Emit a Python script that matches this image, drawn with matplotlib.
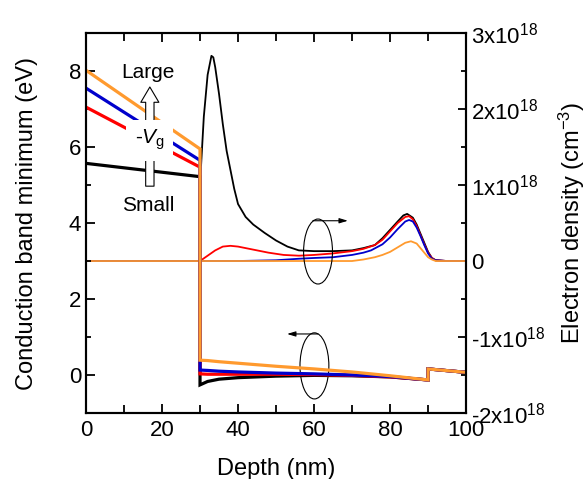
import numpy as np
import matplotlib
matplotlib.use('Agg')
import matplotlib.pyplot as plt
from matplotlib.patches import Ellipse
from matplotlib.ticker import MultipleLocator

plt.rcParams['font.family'] = ['Liberation Sans', 'DejaVu Sans']
plt.rcParams['mathtext.fontset'] = 'custom'
plt.rcParams['mathtext.rm'] = 'Liberation Sans'
plt.rcParams['mathtext.it'] = 'Liberation Sans:italic'
plt.rcParams['mathtext.bf'] = 'Liberation Sans:bold'
plt.rcParams['mathtext.default'] = 'regular'

# conduction band minimum (eV): oxide part 0-30 nm, then channel 30-100 nm
ox_depth = [0, 30]
cb_black_ox = [5.57, 5.22]
cb_red_ox = [7.05, 5.47]
cb_blue_ox = [7.55, 5.65]
cb_orange_ox = [8.02, 5.95]

ch_depth = [30, 32, 35, 40, 50, 60, 70, 80, 90, 90, 100]
cb_black_ch = [-0.26, -0.17, -0.11, -0.07, -0.03, -0.01, -0.02, -0.05, -0.13, 0.16, 0.07]
cb_red_ch = [0.03, 0.02, 0.02, 0.02, 0.02, 0.01, -0.01, -0.05, -0.13, 0.16, 0.07]
cb_blue_ch = [0.13, 0.12, 0.10, 0.08, 0.05, 0.03, 0.0, -0.04, -0.13, 0.16, 0.07]
cb_orange_ch = [0.39, 0.38, 0.35, 0.31, 0.23, 0.16, 0.08, -0.02, -0.13, 0.16, 0.07]

# electron density (x1e18 cm^-3)
n_black_x = [0, 30, 30.1, 31, 32, 33, 33.5, 34, 35, 36, 37, 38, 39, 40, 42, 44, 47, 50, 53, 56, 60, 65, 70,
             73, 76, 78, 80, 82, 83.5, 84.5, 86, 87, 88, 89, 90, 91, 92, 95, 100]
n_black = [0, 0, 1.1, 1.9, 2.45, 2.7, 2.68, 2.55, 2.2, 1.8, 1.45, 1.2, 0.95, 0.75, 0.58, 0.48, 0.37, 0.27,
           0.19, 0.14, 0.13, 0.13, 0.14, 0.17, 0.21, 0.3, 0.41, 0.52, 0.6, 0.62, 0.57, 0.48, 0.36, 0.24,
           0.12, 0.04, 0.01, 0, 0]
n_red_x = [0, 30, 32, 34, 36, 38, 40, 44, 48, 52, 56, 60, 65, 70, 73, 76, 78, 80, 82, 84, 85, 86, 87,
           88, 89, 90, 91, 92, 95, 100]
n_red = [0, 0, 0.07, 0.14, 0.19, 0.2, 0.19, 0.15, 0.11, 0.08, 0.07, 0.08, 0.1, 0.13, 0.16, 0.21, 0.28,
         0.39, 0.5, 0.58, 0.59, 0.55, 0.46, 0.34, 0.22, 0.11, 0.04, 0.01, 0, 0]
n_blue_x = [0, 30, 40, 50, 56, 60, 65, 70, 73, 75, 78, 80, 82, 84, 85, 86, 87, 88, 89, 90, 91, 92, 95, 100]
n_blue = [0, 0, 0, 0.01, 0.03, 0.04, 0.05, 0.08, 0.11, 0.14, 0.22, 0.31, 0.42, 0.52, 0.54, 0.52, 0.44,
          0.33, 0.21, 0.1, 0.03, 0.01, 0, 0]
n_orange_x = [0, 30, 70, 73, 76, 78, 80, 82, 84, 85.5, 87, 88, 89, 90, 91, 92, 100]
n_orange = [0, 0, 0, 0.02, 0.05, 0.08, 0.12, 0.18, 0.24, 0.26, 0.23, 0.17, 0.11, 0.05, 0.02, 0, 0]

right_ticks = [-2, -1, 0, 1, 2, 3]
right_labels = ['-2x10$^{18}$', '-1x10$^{18}$', '0', '1x10$^{18}$', '2x10$^{18}$', '3x10$^{18}$']

c_black = 'black'
c_red = '#FF0000'
c_blue = '#0000CC'
c_orange = '#FF9A2E'

fig = plt.figure(figsize=(5.87, 4.79), dpi=100)
ax = fig.add_axes([0.1465, 0.1378, 0.6475, 0.7932])
ax2 = ax.twinx()
ax.set_zorder(ax2.get_zorder() + 1)
ax.patch.set_visible(False)

# density on the right axis
ax2.plot(n_black_x, n_black, color=c_black, lw=1.3)
ax2.plot(n_red_x, n_red, color=c_red, lw=1.3)
ax2.plot(n_blue_x, n_blue, color=c_blue, lw=1.3)
ax2.plot(n_orange_x, n_orange, color=c_orange, lw=1.3)

# conduction band on the left axis
for ox, ch, col in [(cb_black_ox, cb_black_ch, c_black), (cb_red_ox, cb_red_ch, c_red),
                    (cb_blue_ox, cb_blue_ch, c_blue), (cb_orange_ox, cb_orange_ch, c_orange)]:
    xs = ox_depth + ch_depth
    ys = ox + ch
    ax.plot(xs, ys, color=col, lw=2.3, solid_joinstyle='miter')

ax.set_xlim(0, 100)
ax.set_ylim(-1, 9)
ax2.set_ylim(-2, 3)

ax.xaxis.set_major_locator(MultipleLocator(20))
ax.xaxis.set_minor_locator(MultipleLocator(10))
ax.yaxis.set_major_locator(MultipleLocator(2))
ax.yaxis.set_minor_locator(MultipleLocator(1))
ax2.set_yticks(right_ticks)
ax2.set_yticklabels(right_labels)
ax2.yaxis.set_minor_locator(MultipleLocator(0.5))

ax.tick_params(axis='both', which='major', direction='in', length=6.5, width=1.3, labelsize=16)
ax.tick_params(axis='x', which='major', pad=5)
ax.tick_params(axis='both', which='minor', direction='in', length=3.5, width=1.3)
ax.tick_params(axis='x', which='both', top=True)
ax.tick_params(axis='x', which='minor', length=6)
ax2.tick_params(axis='y', which='major', direction='in', length=5.5, width=1.3, labelsize=16)
ax2.tick_params(axis='y', which='minor', direction='in', length=3.5, width=1.3)
for a in (ax, ax2):
    for s in a.spines.values():
        s.set_linewidth(1.5)

ax.set_xlabel('Depth (nm)', fontsize=17, labelpad=12)
ax.set_ylabel('Conduction band minimum (eV)', fontsize=17, labelpad=22)
ax2.set_ylabel('Electron density (cm$^{-3}$)', fontsize=17, labelpad=8)

# -Vg annotation
ax.annotate('', xy=(16.8, 7.58), xytext=(16.8, 4.97),
            arrowprops=dict(arrowstyle='simple,head_width=1.3,head_length=1.1,tail_width=0.6',
                            mutation_scale=10, fc='white', ec='black', lw=0.8,
                            shrinkA=0, shrinkB=0), zorder=5)
ax.text(16.8, 6.18, r'-$\mathit{V}_\mathrm{g}$', fontsize=15, ha='center', va='center', zorder=6,
        bbox=dict(boxstyle='square,pad=0.4', fc='white', ec='none'))
ax.text(16.3, 7.97, 'Large', fontsize=15, ha='center', va='center')
ax.text(16.3, 4.45, 'Small', fontsize=15, ha='center', va='center')

# ellipses with arrows
ax.add_patch(Ellipse((61.05, 3.25), 7.6, 1.71, fill=False, ec='black', lw=0.8))
ax.annotate('', xy=(68.9, 4.06), xytext=(59.7, 4.06),
            arrowprops=dict(arrowstyle='-|>,head_width=0.15,head_length=0.5', color='black', lw=0.8,
                            shrinkA=0, shrinkB=0))
ax.add_patch(Ellipse((60.1, 0.24), 7.6, 1.74, fill=False, ec='black', lw=0.8))
ax.annotate('', xy=(52.9, 1.08), xytext=(61.05, 1.08),
            arrowprops=dict(arrowstyle='-|>,head_width=0.15,head_length=0.5', color='black', lw=0.8,
                            shrinkA=0, shrinkB=0))

fig.savefig('out.png', dpi=100)
